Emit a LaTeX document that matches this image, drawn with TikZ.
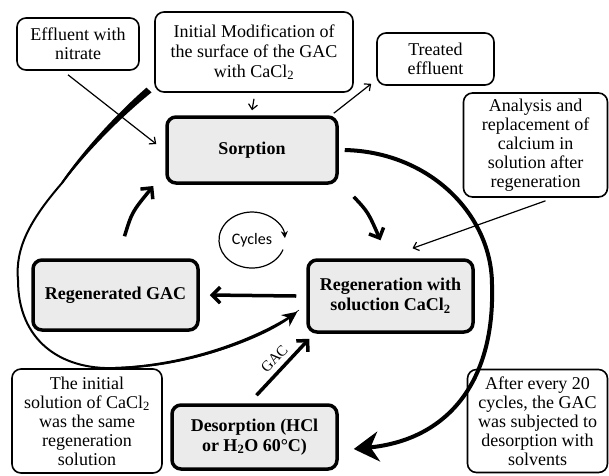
\documentclass[tikz,border=0pt]{standalone}
\usepackage{fontspec}
\setmainfont{Liberation Serif}
\newfontfamily\cycfont{Carlito}
\usetikzlibrary{arrows.meta,calc}
\tikzset{
  note/.style={draw, line width=1.6pt, rounded corners=9pt, align=center, inner sep=0pt,
    font=\fontsize{18}{19}\selectfont},
  proc/.style={draw, line width=3.5pt, rounded corners=9pt, fill=black!8, align=center, inner sep=0pt,
    font=\fontsize{18}{20}\selectfont\bfseries},
  thinarrow/.style={line width=1.2pt, -{Straight Barb[length=5pt,width=9pt]}},
  thickarrow/.style={line width=3.5pt, -{Straight Barb[length=8pt,width=16pt]}},
}
\begin{document}
\begin{tikzpicture}[x=1pt,y=-1pt]
\useasboundingbox (0,0) rectangle (609,475);
\fill[white] (0,0) rectangle (609,475);

% boxes
\node[note, minimum width=122pt, minimum height=52pt] (eff) at (78,44) {Effluent with\\nitrate};
\node[note, minimum width=198pt, minimum height=80pt, font=\fontsize{18}{20}\selectfont] (init) at (254,52) {Initial Modification of\\the surface of the GAC\\with CaCl\textsubscript{2}};
\node[note, minimum width=117pt, minimum height=52pt] (treat) at (435.5,59) {Treated\\effluent};
\node[note, minimum width=144pt, minimum height=104pt] (anal) at (535.5,145) {Analysis and\\replacement of\\calcium in\\solution after\\regeneration};
\node[proc, minimum width=170pt, minimum height=66pt] (sorp) at (252,150) {Sorption};
\node[proc, minimum width=165pt, minimum height=72pt] (regen) at (390.5,296) {Regeneration with\\soluction CaCl\textsubscript{2}};
\node[proc, minimum width=165pt, minimum height=70pt] (rgac) at (115.5,295) {Regenerated GAC};
\node[proc, minimum width=165pt, minimum height=64pt] (deso) at (254.5,437) {Desorption (HCl\\or H\textsubscript{2}O 60°C)};
\node[note, minimum width=150pt, minimum height=104pt] (isol) at (87,421) {The initial\\solution of CaCl\textsubscript{2}\\was the same\\regeneration\\solution};
\node[note, minimum width=140pt, minimum height=103pt] (after) at (537.5,421) {After every 20\\cycles, the GAC\\was subjected to\\desorption with\\solvents};

% cycles
\node[font=\cycfont\fontsize{16}{16}\selectfont] (cyc) at (252,240) {Cycles};
\draw[line width=1.2pt, -{Stealth[length=7pt,width=7pt]}] ($(cyc)+(31,9.6)$) arc[start angle=-20, end angle=-356, x radius=33pt, y radius=28pt];

% thin arrows
\draw[thinarrow] ($(eff.south)+(-10,4)$) -- ($(sorp.west)+(-9,-6)$);
\draw[thinarrow] ($(init.south)+(0,6)$) -- ($(sorp.north)+(0,-5)$);
\draw[thinarrow] ($(sorp.north east)+(-5,-2)$) -- ($(treat.south west)+(-5,-2)$);
\draw[thinarrow] ($(anal.south)+(10,3)$) -- ($(regen.north)+(22,-10)$);

% thick cycle arrows
\draw[thickarrow] ($(sorp.south east)+(15,12)$) .. controls (368,212) .. ($(regen.north)+(-10,-18)$);
\draw[thickarrow] ($(regen.west)+(-10,0)$) -- ($(rgac.east)+(10,0)$);
\draw[thickarrow] ($(rgac.north)+(9,-22)$) .. controls (132,212) .. ($(sorp.west)+(-12,36)$);
\draw[thickarrow] ($(deso.north)+(2,-8)$) -- node[pos=0.5, above, sloped, inner sep=5pt, font=\fontsize{15}{15}\selectfont] {GAC} ($(regen.south west)+(3,5)$);

% big right curve
\draw[line width=4pt, -{Stealth[length=25pt,width=30pt]}] ($(sorp.east)+(6,0)$)
  .. controls (430,152) and (492,215) .. (492,285)
  .. controls (495,385) and (445,440) .. ($(deso.east)+(15,12)$);

% big left curve
\draw[line width=2pt, -{Stealth[length=15pt,width=14pt]}] ($(init.south west)+(-6,-2)$)
  .. controls (118,116) and (84,152) .. (62,183)
  .. controls (30,220) and (15,248) .. (18,280)
  .. controls (18,340) and (60,370) .. (115,368)
  .. controls (190,366) and (262,338) .. ($(regen.south west)+(-9,-22)$);
\fill (151.5,92.4) .. controls (120.0,117.9) and (85.3,153.2) .. (62.7,183.7)
  -- (61.3,182.3) .. controls (82.7,150.8) and (116.0,114.2) .. (146.5,87.6) -- cycle;
\fill (115.0,369.0) .. controls (190.3,367.5) and (262.9,339.8) .. (299.2,310.2)
  -- (298.8,309.8) .. controls (261.1,336.2) and (189.7,364.5) .. (115.0,367.0) -- cycle;
\end{tikzpicture}
\end{document}
